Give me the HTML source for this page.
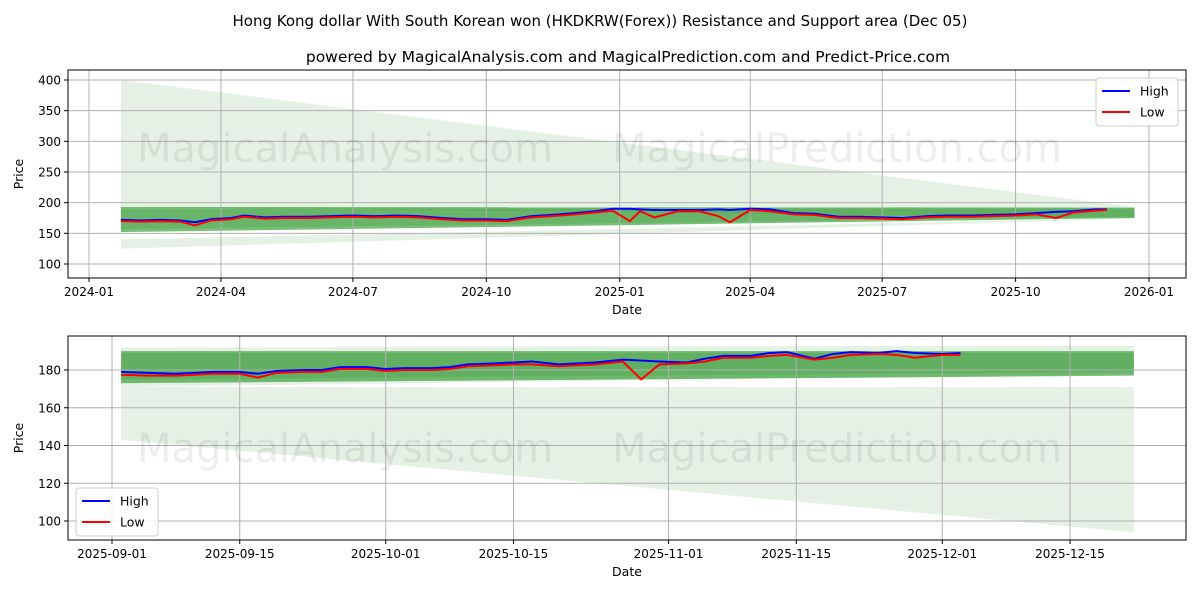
<!DOCTYPE html>
<html><head><meta charset="utf-8"><style>
body{margin:0;background:#fff;font-family:"Liberation Sans","DejaVu Sans",sans-serif}
svg text{font-family:"DejaVu Sans","Liberation Sans",sans-serif}
</style></head><body>
<svg id="c" width="1200" height="600">
<text x="600" y="26" font-size="15" text-anchor="middle">Hong Kong dollar With South Korean won (HKDKRW(Forex)) Resistance and Support area (Dec 05)</text>
<text x="628" y="62" font-size="15.5" text-anchor="middle">powered by MagicalAnalysis.com and MagicalPrediction.com and Predict-Price.com</text>
</svg>
<script>
// top chart data
const topDates=["2024-01-23","2024-02-05","2024-02-19","2024-03-04","2024-03-14","2024-03-25","2024-04-08","2024-04-17","2024-05-01","2024-05-15","2024-06-01","2024-06-15","2024-07-01","2024-07-15","2024-08-01","2024-08-15","2024-09-01","2024-09-15","2024-10-01","2024-10-15","2024-11-01","2024-11-15","2024-12-01","2024-12-15","2024-12-27","2025-01-08","2025-01-15","2025-01-25","2025-02-10","2025-02-25","2025-03-10","2025-03-18","2025-04-01","2025-04-15","2025-05-01","2025-05-15","2025-06-01","2025-06-15","2025-07-01","2025-07-15","2025-08-01","2025-08-15","2025-09-01","2025-09-15","2025-10-01","2025-10-15","2025-10-29","2025-11-10","2025-11-25","2025-12-03"];
const topHigh=[172,171,172,171,168,173,175,179,176,177,177,178,179,178,179,178,175,173,173,172,178,180,183,186,190,190,189,188,188,188,189,188,190,189,183,182,177,177,176,175,178,179,179,180,181,183,185,186,189,189];
const topLow=[170,169,170,169,163,171,173,177,174,175,175,176,177,176,177,176,173,171,171,170,176,178,181,184,187,170,186,176,186,186,178,168,188,186,181,180,175,175,174,173,176,177,177,178,179,181,175,184,187,188];
// bottom chart data
const botDates=["2025-09-02","2025-09-05","2025-09-08","2025-09-10","2025-09-12","2025-09-15","2025-09-17","2025-09-19","2025-09-22","2025-09-24","2025-09-26","2025-09-29","2025-10-01","2025-10-03","2025-10-06","2025-10-08","2025-10-10","2025-10-13","2025-10-15","2025-10-17","2025-10-20","2025-10-22","2025-10-24","2025-10-27","2025-10-29","2025-10-31","2025-11-03","2025-11-05","2025-11-07","2025-11-10","2025-11-12","2025-11-14","2025-11-17","2025-11-19","2025-11-21","2025-11-24","2025-11-26","2025-11-28","2025-12-01","2025-12-03"];
const botHigh=[179,178.5,178,178.5,179,179,178,179.5,180,180,181.5,181.5,180.5,181,181,181.5,183,183.5,184,184.5,183,183.5,184,185.5,185,184.5,184,186,187.5,187.5,189,189.5,186,188.5,189.5,189,190,189,188.5,189];
const botLow=[177.5,177,177,177.5,178,178,176,178.5,179,179,180.5,180.5,179.5,180,180,180.5,182,182.5,183,183,182,182.5,183,184.5,175,183,183.5,184.5,186.5,186.5,187.5,188,185.5,186.5,188,188.5,188,186.5,188,188];
const topYTicks=[100,150,200,250,300,350,400];
const topXTicks=["2024-01","2024-04","2024-07","2024-10","2025-01","2025-04","2025-07","2025-10","2026-01"];
const botYTicks=[100,120,140,160,180];
const botXTicks=["2025-09-01","2025-09-15","2025-10-01","2025-10-15","2025-11-01","2025-11-15","2025-12-01","2025-12-15"];

const svg=document.getElementById('c');const NS="http://www.w3.org/2000/svg";
function mk(t,a,p){const e=document.createElementNS(NS,t);for(const k in a)e.setAttribute(k,a[k]);(p||svg).appendChild(e);return e;}
const day=s=>Date.parse(s.length==7?s+"-01":s)/864e5;
function panel(o){
  const g=mk('g',{});
  const X=d=>o.x0+(day(d)-day(o.d0))*o.pxd, Y=v=>o.y0-(v-o.v0)*o.pxv;
  const s=day(o.bs),e=day(o.be);const xs=o.x0+(s-day(o.d0))*o.pxd,xe=o.x0+(e-day(o.d0))*o.pxd;
  o.bands.forEach(b=>{const p=mk('polygon',{points:`${xs},${Y(b[0])} ${xe},${Y(b[2])} ${xe},${Y(b[3])} ${xs},${Y(b[1])}`,fill:b[4],'fill-opacity':b[5]},g);});
  o.yt.forEach(v=>{mk('line',{x1:o.L,x2:o.R,y1:Y(v),y2:Y(v),stroke:'#b0b0b0','stroke-width':1},g);mk('line',{x1:o.L-4,x2:o.L,y1:Y(v),y2:Y(v),stroke:'#000'},g);const t=mk('text',{x:o.L-7,y:Y(v)+4.5,'font-size':12,'text-anchor':'end'},g);t.textContent=v;});
  o.xt.forEach(d=>{const x=X(d);mk('line',{x1:x,x2:x,y1:o.T,y2:o.B,stroke:'#b0b0b0'},g);mk('line',{x1:x,x2:x,y1:o.B,y2:o.B+4,stroke:'#000'},g);const t=mk('text',{x:x,y:o.B+18,'font-size':12,'text-anchor':'middle'},g);t.textContent=d;});
  [[o.hi,'#0000ff','high-line'],[o.lo,'#ff0000','low-line']].forEach(([arr,c,n])=>{const p=mk('polyline',{points:o.dates.map((d,i)=>X(d)+','+Y(arr[i])).join(' '),fill:'none',stroke:c,'stroke-width':2},g);});
  mk('rect',{x:o.L,y:o.T,width:o.R-o.L,height:o.B-o.T,fill:'none',stroke:'#000'},g);
  const wm1=mk('text',{x:345,y:o.wm,'font-size':40,fill:'#000','fill-opacity':0.07,'text-anchor':'middle'},g);wm1.textContent='MagicalAnalysis.com';
  const wm2=mk('text',{x:837,y:o.wm,'font-size':40,fill:'#000','fill-opacity':0.07,'text-anchor':'middle'},g);wm2.textContent='MagicalPrediction.com';
  const yl=mk('text',{x:0,y:0,'font-size':12.5,'text-anchor':'middle',transform:`translate(${o.L-45},${(o.T+o.B)/2}) rotate(-90)`},g);yl.textContent='Price';
  const xl=mk('text',{x:(o.L+o.R)/2,y:o.B+36,'font-size':12.5,'text-anchor':'middle'},g);xl.textContent='Date';
  const lg=mk('g',{},g);
  mk('rect',{x:o.lx,y:o.ly,width:82,height:48,rx:3,fill:'#fff','fill-opacity':0.85,stroke:'#ccc'},lg);
  [['High','#0000ff'],['Low','#ff0000']].forEach(([n,c],i)=>{const yy=o.ly+13+i*21;mk('line',{x1:o.lx+6,x2:o.lx+34,y1:yy,y2:yy,stroke:c,'stroke-width':2},lg);const t=mk('text',{x:o.lx+44,y:yy+4.5,'font-size':12.5},lg);t.textContent=n;});
}
panel({name:'top-panel',L:68,R:1186,T:70,B:278,x0:89,d0:"2024-01-01",pxd:1060/731,y0:264,v0:100,pxv:184/300,
 bs:"2024-01-23",be:"2025-12-22",
 bands:[[400,193,193,175,'#2e8b2e',0.12],[140,125,175,174,'#2e8b2e',0.12],[193,152,192,175,'#2e9b2e',0.65],[190,157,190,177,'#2e8b2e',0.2]],
 yt:topYTicks,xt:topXTicks,dates:topDates,hi:topHigh,lo:topLow,wm:162,lx:1096,ly:78});
panel({name:'bottom-panel',L:68,R:1186,T:336,B:540,x0:112,d0:"2025-09-01",pxd:958/105,y0:370,v0:180,pxv:151/80,
 bs:"2025-09-02",be:"2025-12-22",
 bands:[[192,171,193,178,'#2e8b2e',0.12],[171,143,171,94,'#2e8b2e',0.12],[190,173,190,177,'#2e9b2e',0.65],[189,175,189,179,'#2e8b2e',0.2]],
 yt:botYTicks,xt:botXTicks,dates:botDates,hi:botHigh,lo:botLow,wm:462,lx:76,ly:488});
</script>
</body></html>
